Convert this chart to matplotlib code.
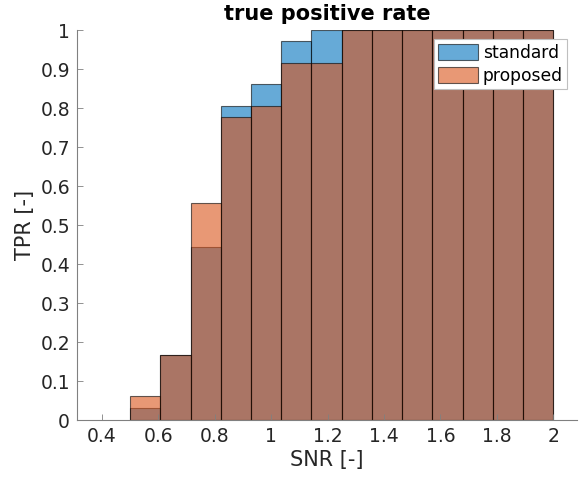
import numpy as np
import matplotlib
matplotlib.use("Agg")
import matplotlib.pyplot as plt

# bin edges of the histogram (SNR)
edges = [0.5, 0.6071, 0.7143, 0.8214, 0.9286, 1.0357, 1.1429, 1.25,
         1.3571, 1.4643, 1.5714, 1.6786, 1.7857, 1.8929, 2.0]
tpr_standard = [0.0303, 0.1667, 0.4444, 0.8056, 0.8611, 0.9722, 1.0,
                1.0, 1.0, 1.0, 1.0, 1.0, 1.0, 1.0]
tpr_proposed = [0.0606, 0.1667, 0.5556, 0.7778, 0.8056, 0.9167, 0.9167,
                1.0, 1.0, 1.0, 1.0, 1.0, 1.0, 1.0]
xticks = [0.4, 0.6, 0.8, 1, 1.2, 1.4, 1.6, 1.8, 2]
yticks = [0, 0.1, 0.2, 0.3, 0.4, 0.5, 0.6, 0.7, 0.8, 0.9, 1]

c_std = (0, 0.447, 0.741)
c_prop = (0.85, 0.325, 0.098)

fig = plt.figure(figsize=(5.79, 4.78), dpi=100)
ax = fig.add_axes([0.133, 0.1213, 0.8635, 0.8157])

left = np.array(edges[:-1])
width = np.diff(edges)
ax.bar(left, tpr_standard, width=width, align='edge', color=c_std, alpha=0.6,
       edgecolor=(0, 0, 0, 0.55), linewidth=0.8, label='standard')
ax.bar(left, tpr_proposed, width=width, align='edge', color=c_prop, alpha=0.6,
       edgecolor=(0, 0, 0, 0.55), linewidth=0.8, label='proposed')

ax.set_xlim(0.312, 2.084)
ax.set_ylim(0, 1)
ax.set_xticks(xticks)
ax.set_xticklabels(['0.4', '0.6', '0.8', '1', '1.2', '1.4', '1.6', '1.8', '2'])
ax.set_yticks(yticks)
ax.set_yticklabels(['0', '0.1', '0.2', '0.3', '0.4', '0.5', '0.6', '0.7', '0.8', '0.9', '1'])

for s in ['top', 'right']:
    ax.spines[s].set_visible(False)
for s in ['left', 'bottom']:
    ax.spines[s].set_color('#808080')
    ax.spines[s].set_linewidth(0.8)
ax.set_axisbelow(False)
ax.tick_params(direction='in', length=4, width=0.6, color='#808080',
               labelsize=13.5, labelcolor='#262626', pad=5)

ax.set_xlabel('SNR [-]', fontsize=15, color='#262626', labelpad=3)
ax.set_ylabel('TPR [-]', fontsize=15, color='#262626', labelpad=4)
ax.set_title('true positive rate', fontsize=15, fontweight='bold', pad=7)

leg = ax.legend(loc='upper right', bbox_to_anchor=(0.98, 0.976), fontsize=12.3,
                fancybox=False, edgecolor='#bfbfbf', framealpha=1,
                handlelength=2.3, handleheight=1.0, handletextpad=0.3,
                borderpad=0.25, labelspacing=0.3, borderaxespad=0.0)
leg.get_frame().set_linewidth(0.8)

fig.savefig('out.png', dpi=100)
